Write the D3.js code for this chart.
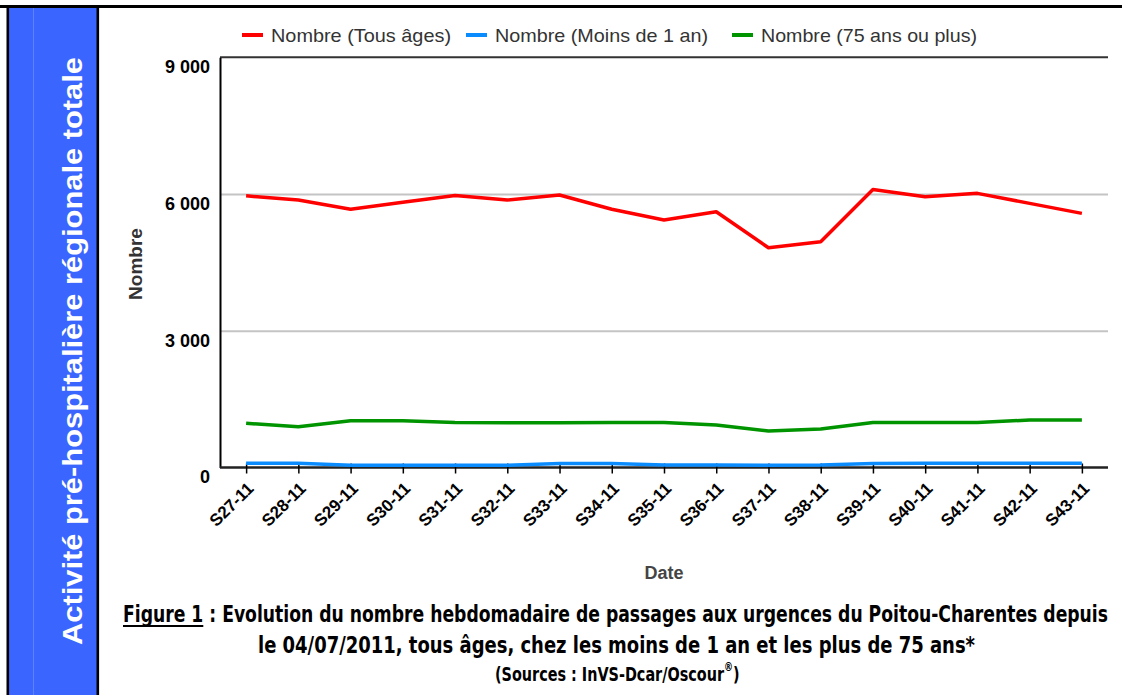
<!DOCTYPE html>
<html>
<head>
<meta charset="utf-8">
<script src="https://cdn.jsdelivr.net/npm/d3@7"></script>
<style>
  body { margin: 0; background: #fff; }
  svg { display: block; font-family: "Liberation Sans", Arial, sans-serif; }
</style>
</head>
<body>
<div id="main_svg"></div>
<script>
// weekly data
var weeks = ["S27-11", "S28-11", "S29-11", "S30-11", "S31-11", "S32-11", "S33-11", "S34-11", "S35-11",
             "S36-11", "S37-11", "S38-11", "S39-11", "S40-11", "S41-11", "S42-11", "S43-11"];
var tousAges = [5960, 5870, 5665, 5820, 5970, 5870, 5980, 5665, 5430, 5610, 4820, 4955, 6100, 5940, 6015, 5795, 5575];
var moins1an = [95, 95, 50, 50, 50, 50, 90, 90, 55, 55, 50, 55, 90, 95, 95, 95, 95];
var plus75 = [970, 895, 1027, 1027, 985, 980, 980, 985, 985, 932, 800, 845, 985, 985, 985, 1042, 1042];
var yTicks = [0, 3000, 6000, 9000];
var seriesNames = ["Nombre (Tous âges)", "Nombre (Moins de 1 an)", "Nombre (75 ans ou plus)"];

var colors = ["#ff0000", "#0a8cff", "#009400"];
var seriesValues = [tousAges, moins1an, plus75];

var W = 1122, H = 695;

var svg = d3.select("#main_svg").append("svg")
    .attr("width", W)
    .attr("height", H);

// left blue panel and frame
svg.append("rect").attr("x", 8).attr("y", 6).attr("width", 90).attr("height", H).attr("fill", "#3a66ff");
svg.append("line").attr("x1", 33.5).attr("x2", 33.5).attr("y1", 7).attr("y2", H)
    .attr("stroke", "#5b82ff").attr("stroke-width", 1);
svg.append("line").attr("x1", 0).attr("x2", W).attr("y1", 6.5).attr("y2", 6.5).attr("stroke", "#000").attr("stroke-width", 3);
svg.append("line").attr("x1", 7.8).attr("x2", 7.8).attr("y1", 5).attr("y2", H).attr("stroke", "#000").attr("stroke-width", 2.6);
svg.append("line").attr("x1", 97.8).attr("x2", 97.8).attr("y1", 5).attr("y2", H).attr("stroke", "#000").attr("stroke-width", 2.6);

svg.append("text")
    .attr("transform", "translate(73,351) rotate(-90)")
    .attr("text-anchor", "middle")
    .attr("dominant-baseline", "central")
    .attr("fill", "#fff")
    .style("font-size", "27px")
    .style("font-weight", "bold")
    .attr("textLength", 588)
    .attr("lengthAdjust", "spacingAndGlyphs")
    .text("Activité pré-hospitalière régionale totale");

// scales
var x = d3.scalePoint()
    .domain(weeks)
    .range([220, 1108])
    .padding(0.5);
var y = d3.scaleLinear()
    .domain([0, 9000])
    .range([467.5, 57.3]);

var fr = d3.formatLocale({decimal: ",", thousands: " ", grouping: [3], currency: ["", ""]});
var fmt = fr.format(",");

// gridlines
svg.append("g")
    .attr("transform", "translate(220,0)")
    .call(d3.axisLeft(y).tickValues([3000, 6000]).tickSize(-888).tickFormat(""))
    .call(function (g) {
        g.select(".domain").remove();
        g.selectAll("line").attr("stroke", "#c4c4c4").attr("stroke-width", 2);
    });
svg.append("line").attr("x1", 220).attr("x2", 1108).attr("y1", y(9000)).attr("y2", y(9000))
    .attr("stroke", "#333").attr("stroke-width", 2);

// y axis
svg.append("g")
    .attr("transform", "translate(220,0)")
    .call(d3.axisLeft(y).tickValues(yTicks).tickSize(0).tickPadding(10).tickFormat(fmt))
    .call(function (g) {
        g.select(".domain").attr("stroke", "#000").attr("stroke-width", 2);
        g.selectAll("text")
            .attr("fill", "#000")
            .attr("dy", "0.85em")
            .style("font-size", "18px")
            .style("font-weight", "bold")
            .style("font-family", "'Liberation Sans', Arial, sans-serif");
    });

// x axis
svg.append("g")
    .attr("transform", "translate(0,467.5)")
    .call(d3.axisBottom(x).tickSize(5).tickSizeOuter(0))
    .call(function (g) {
        g.select(".domain").attr("stroke", "#222").attr("stroke-width", 2.5).attr("d", "M220,0H1108");
        g.selectAll(".tick line").attr("stroke", "#000").attr("stroke-width", 1.5).attr("y1", -4).attr("y2", 6);
        g.selectAll(".tick text")
            .attr("fill", "#000")
            .attr("text-anchor", "end")
            .attr("dy", 0)
            .attr("y", 0)
            .attr("transform", "translate(8,22) rotate(-45)")
            .style("font-size", "17px")
            .style("font-weight", "bold")
            .style("font-family", "'Liberation Sans', Arial, sans-serif");
    });

// series lines
var line = d3.line()
    .x(function (d, i) { return x(weeks[i]); })
    .y(function (d) { return y(d); });

seriesValues.forEach(function (vals, k) {
    svg.append("path")
        .datum(vals)
        .attr("fill", "none")
        .attr("stroke", colors[k])
        .attr("stroke-width", 3.5)
        .attr("stroke-linejoin", "round")
        .attr("d", line);
});

// legend
var legendX = [242, 466, 732];
var legendW = [180, 213, 216];
var legend = svg.append("g").attr("transform", "translate(0,35)");
seriesNames.forEach(function (name, k) {
    legend.append("line")
        .attr("x1", legendX[k]).attr("x2", legendX[k] + 21)
        .attr("y1", 0).attr("y2", 0)
        .attr("stroke", colors[k]).attr("stroke-width", 4);
    legend.append("text")
        .attr("x", legendX[k] + 29)
        .attr("y", 0)
        .attr("dominant-baseline", "central")
        .attr("fill", "#333")
        .style("font-size", "19px")
        .attr("textLength", legendW[k])
        .attr("lengthAdjust", "spacingAndGlyphs")
        .text(name);
});

// axis titles
svg.append("text")
    .attr("transform", "translate(135,264) rotate(-90)")
    .attr("text-anchor", "middle")
    .attr("dominant-baseline", "central")
    .attr("fill", "#333")
    .style("font-size", "19px")
    .style("font-weight", "bold")
    .text("Nombre");

svg.append("text")
    .attr("x", 664)
    .attr("y", 573)
    .attr("text-anchor", "middle")
    .attr("dominant-baseline", "central")
    .attr("fill", "#444")
    .style("font-size", "18px")
    .style("font-weight", "bold")
    .text("Date");

// caption (condensed look: narrow font stretched vertically)
var capFont = "'Liberation Sans Narrow', 'DejaVu Sans Condensed', 'Liberation Sans', sans-serif";
var cap1 = svg.append("text")
    .attr("transform", "translate(123,622) scale(1,1.3)")
    .attr("fill", "#000")
    .style("font-size", "18px")
    .style("font-weight", "bold")
    .style("font-family", capFont)
    .attr("textLength", 985)
    .attr("lengthAdjust", "spacingAndGlyphs")
    .text("Figure 1 : Evolution du nombre hebdomadaire de passages aux urgences du Poitou-Charentes  depuis");

var n1 = cap1.node();
var ux0 = n1.getStartPositionOfChar(0).x;
var ux1 = n1.getEndPositionOfChar(7).x;
svg.append("line")
    .attr("x1", 123 + ux0).attr("x2", 123 + ux1)
    .attr("y1", 626).attr("y2", 626)
    .attr("stroke", "#000").attr("stroke-width", 2);

svg.append("text")
    .attr("transform", "translate(258,653) scale(1,1.3)")
    .attr("fill", "#000")
    .style("font-size", "18px")
    .style("font-weight", "bold")
    .style("font-family", capFont)
    .attr("textLength", 717)
    .attr("lengthAdjust", "spacingAndGlyphs")
    .text("le 04/07/2011, tous âges, chez les moins de 1 an et les plus de 75 ans*");

var cap3 = svg.append("text")
    .attr("transform", "translate(495,681) scale(1,1.25)")
    .attr("fill", "#000")
    .style("font-size", "16px")
    .style("font-weight", "bold")
    .style("font-family", capFont);
cap3.append("tspan").text("(Sources : InVS-Dcar/Oscour");
cap3.append("tspan").attr("dy", -8).style("font-size", "10px").text("®");
cap3.append("tspan").attr("dy", 8).text(")");
</script>
</body>
</html>
